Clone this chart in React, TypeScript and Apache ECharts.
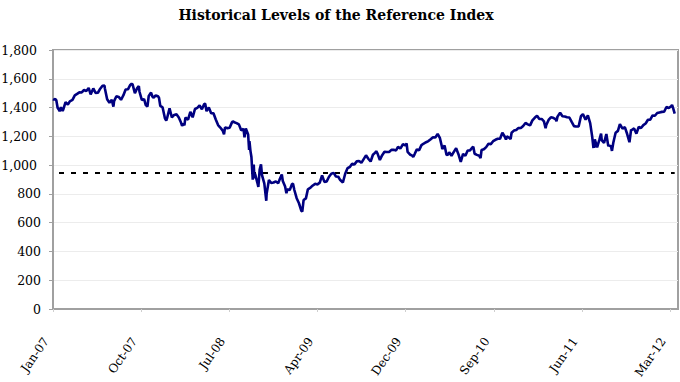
import React, { useEffect, useRef } from "react";
import * as echarts from "echarts";

// ---- data (reference index closing levels) ----
const startDate = "2007-02-13";
const tickStepDays = 267;
const axisMaxDays = 1893;
const tickLabels = ["Jan-07", "Oct-07", "Jul-08", "Apr-09", "Dec-09", "Sep-10", "Jun-11", "Mar-12"];
const yTicks = [0, 200, 400, 600, 800, 1000, 1200, 1400, 1600, 1800];
const barrierLevel = 945;

const y2007: [string, number][] = [
  ["02-13", 1459], ["02-16", 1455], ["02-20", 1460], ["02-23", 1451], ["02-27", 1399], ["03-02", 1388],
  ["03-05", 1374], ["03-09", 1402], ["03-14", 1377], ["03-16", 1386], ["03-23", 1437], ["03-30", 1421],
  ["04-05", 1443], ["04-13", 1453], ["04-20", 1485], ["04-27", 1495], ["05-04", 1506], ["05-11", 1505],
  ["05-18", 1522], ["05-25", 1515], ["06-01", 1536], ["06-07", 1491], ["06-15", 1533], ["06-22", 1502],
  ["06-29", 1503], ["07-06", 1531], ["07-13", 1552], ["07-19", 1553], ["07-20", 1534], ["07-27", 1458],
  ["08-03", 1433], ["08-10", 1453], ["08-15", 1406], ["08-17", 1445], ["08-24", 1479], ["08-31", 1474],
  ["09-07", 1454], ["09-14", 1484], ["09-21", 1525], ["09-28", 1527], ["10-05", 1557], ["10-09", 1565],
  ["10-12", 1561], ["10-19", 1500], ["10-26", 1535], ["10-31", 1549], ["11-02", 1510], ["11-09", 1453],
  ["11-16", 1458], ["11-21", 1417], ["11-26", 1407], ["11-30", 1481], ["12-07", 1504], ["12-11", 1477],
  ["12-14", 1468], ["12-21", 1484], ["12-28", 1478], ["12-31", 1468],
];
const y2008: [string, number][] = [
  ["01-04", 1411], ["01-11", 1401], ["01-18", 1325], ["01-22", 1310], ["01-25", 1331], ["02-01", 1395],
  ["02-08", 1331], ["02-15", 1349], ["02-22", 1353], ["02-29", 1331], ["03-07", 1294], ["03-10", 1273],
  ["03-14", 1288], ["03-17", 1276], ["03-20", 1330], ["03-28", 1316], ["04-04", 1370], ["04-11", 1332],
  ["04-18", 1390], ["04-25", 1398], ["05-02", 1414], ["05-09", 1388], ["05-16", 1425], ["05-19", 1426],
  ["05-23", 1375], ["05-30", 1400], ["06-06", 1361], ["06-13", 1360], ["06-20", 1317], ["06-27", 1278],
  ["07-03", 1263], ["07-11", 1240], ["07-15", 1214], ["07-18", 1261], ["07-25", 1257], ["08-01", 1260],
  ["08-08", 1297], ["08-11", 1305], ["08-15", 1298], ["08-22", 1292], ["08-29", 1283], ["09-05", 1242],
  ["09-12", 1252], ["09-15", 1193], ["09-19", 1255], ["09-26", 1213], ["09-29", 1106], ["09-30", 1166],
  ["10-03", 1099], ["10-06", 1056], ["10-10", 899], ["10-13", 1003], ["10-15", 908], ["10-17", 940],
  ["10-24", 877], ["10-27", 848], ["10-31", 969], ["11-04", 1005], ["11-07", 930], ["11-14", 873],
  ["11-20", 752], ["11-21", 800], ["11-28", 896], ["12-05", 876], ["12-12", 879], ["12-19", 887],
  ["12-26", 873], ["12-31", 903],
];
const y2009: [string, number][] = [
  ["01-06", 935], ["01-09", 890], ["01-16", 851], ["01-20", 805], ["01-23", 832], ["01-30", 826],
  ["02-06", 869], ["02-09", 870], ["02-13", 827], ["02-20", 770], ["02-27", 735], ["03-06", 683],
  ["03-09", 677], ["03-13", 757], ["03-20", 769], ["03-26", 832], ["04-03", 843], ["04-09", 857],
  ["04-17", 870], ["04-24", 866], ["05-01", 878], ["05-08", 929], ["05-15", 883], ["05-22", 887],
  ["05-29", 919], ["06-05", 940], ["06-12", 946], ["06-19", 921], ["06-26", 919], ["07-02", 896],
  ["07-10", 879], ["07-17", 940], ["07-24", 979], ["07-31", 987], ["08-07", 1010], ["08-14", 1005],
  ["08-21", 1026], ["08-28", 1029], ["09-04", 1016], ["09-11", 1042], ["09-18", 1068], ["09-25", 1044],
  ["10-02", 1025], ["10-09", 1072], ["10-16", 1087], ["10-19", 1097], ["10-23", 1080], ["10-30", 1036],
  ["11-06", 1069], ["11-13", 1093], ["11-20", 1091], ["11-27", 1091], ["12-04", 1106], ["12-11", 1106],
  ["12-18", 1102], ["12-24", 1127], ["12-31", 1115],
];
const y2010: [string, number][] = [
  ["01-08", 1145], ["01-15", 1137], ["01-19", 1150], ["01-22", 1092], ["01-29", 1074], ["02-05", 1066],
  ["02-08", 1056], ["02-12", 1075], ["02-19", 1109], ["02-26", 1104], ["03-05", 1139], ["03-12", 1150],
  ["03-19", 1159], ["03-26", 1167], ["04-01", 1178], ["04-09", 1194], ["04-16", 1192], ["04-23", 1217],
  ["04-30", 1187], ["05-06", 1128], ["05-07", 1111], ["05-14", 1136], ["05-20", 1071], ["05-25", 1074],
  ["05-28", 1089], ["06-04", 1065], ["06-11", 1092], ["06-18", 1117], ["06-25", 1076], ["07-02", 1022],
  ["07-09", 1078], ["07-16", 1065], ["07-23", 1102], ["07-30", 1102], ["08-06", 1122], ["08-09", 1128],
  ["08-13", 1079], ["08-20", 1071], ["08-27", 1065], ["08-31", 1049], ["09-03", 1105], ["09-10", 1110],
  ["09-17", 1125], ["09-24", 1149], ["10-01", 1146], ["10-08", 1166], ["10-15", 1176], ["10-22", 1183],
  ["10-29", 1183], ["11-05", 1225], ["11-12", 1199], ["11-16", 1178], ["11-19", 1199], ["11-26", 1190],
  ["11-30", 1181], ["12-03", 1225], ["12-10", 1240], ["12-17", 1244], ["12-23", 1257], ["12-31", 1258],
];
const y2011: [string, number][] = [
  ["01-07", 1272], ["01-14", 1293], ["01-21", 1283], ["01-28", 1276], ["02-04", 1311], ["02-11", 1329],
  ["02-18", 1343], ["02-25", 1320], ["03-04", 1321], ["03-11", 1304], ["03-16", 1256], ["03-18", 1279],
  ["03-25", 1314], ["04-01", 1332], ["04-08", 1329], ["04-15", 1320], ["04-18", 1305], ["04-21", 1337],
  ["04-29", 1364], ["05-06", 1340], ["05-13", 1338], ["05-20", 1333], ["05-27", 1331], ["06-03", 1300],
  ["06-10", 1271], ["06-16", 1268], ["06-17", 1272], ["06-24", 1268], ["07-01", 1340], ["07-07", 1354],
  ["07-15", 1316], ["07-22", 1345], ["07-29", 1292], ["08-04", 1200], ["08-08", 1119], ["08-09", 1172],
  ["08-10", 1120], ["08-12", 1179], ["08-19", 1124], ["08-26", 1177], ["08-31", 1219], ["09-02", 1174],
  ["09-09", 1154], ["09-16", 1216], ["09-22", 1130], ["09-23", 1136], ["09-30", 1131], ["10-03", 1099],
  ["10-07", 1155], ["10-14", 1225], ["10-21", 1238], ["10-27", 1285], ["10-28", 1285], ["11-04", 1253],
  ["11-11", 1264], ["11-18", 1216], ["11-25", 1159], ["11-30", 1247], ["12-02", 1244], ["12-09", 1255],
  ["12-16", 1219], ["12-23", 1265], ["12-30", 1258],
];
const y2012: [string, number][] = [
  ["01-06", 1278], ["01-13", 1289], ["01-20", 1315], ["01-27", 1316], ["02-03", 1345], ["02-10", 1343],
  ["02-17", 1362], ["02-24", 1366], ["03-02", 1370], ["03-09", 1371], ["03-16", 1404], ["03-23", 1397],
  ["03-30", 1408], ["04-02", 1419], ["04-05", 1398], ["04-10", 1358],
];

const yearBlocks: [number, [string, number][]][] = [
  [2007, y2007], [2008, y2008], [2009, y2009], [2010, y2010], [2011, y2011], [2012, y2012],
];

function toUTC(s: string): number {
  const [y, m, d] = s.split("-").map(Number);
  return Date.UTC(y, m - 1, d);
}
const startMs = toUTC(startDate);
const seriesData: [number, number][] = [];
yearBlocks.forEach(([yr, rows]) => {
  rows.forEach(([md, v]) => {
    seriesData.push([(toUTC(`${yr}-${md}`) - startMs) / 86400000, v]);
  });
});
const lastDay = seriesData[seriesData.length - 1][0];

const SERIF = "'DejaVu Serif', serif";
const fmtThousands = (v: number) => v.toLocaleString("en-US");

export default function App() {
  const ref = useRef<HTMLDivElement>(null);
  useEffect(() => {
    if (!ref.current) return;
    const chart = echarts.init(ref.current, undefined, { renderer: "svg" });
    chart.setOption({
      animation: false,
      backgroundColor: "#ffffff",
      title: {
        text: "Historical Levels of the Reference Index",
        left: 331,
        top: 3,
        textAlign: "center",
        textStyle: { fontFamily: SERIF, fontWeight: "bold", fontSize: 14, color: "#000" },
      },
      grid: {
        left: 53,
        top: 50,
        width: 625,
        height: 259,
        containLabel: false,
        outerBoundsMode: "none",
        show: true,
        borderColor: "#a0a0a0",
        borderWidth: 2,
        backgroundColor: "transparent",
      },
      xAxis: {
        type: "value",
        min: 0,
        max: axisMaxDays,
        interval: tickStepDays,
        splitLine: { show: false },
        axisLine: { show: true, lineStyle: { color: "#a0a0a0", width: 2 } },
        axisTick: { show: true, length: 3, lineStyle: { color: "#cfcfcf", width: 1 } },
        axisLabel: {
          rotate: 55,
          margin: 20,
          padding: [0, 12, 0, 0],
          showMaxLabel: false,
          fontFamily: SERIF,
          fontSize: 12,
          color: "#000",
          formatter: (v: number) => {
            const i = Math.round(v / tickStepDays);
            return Math.abs(v - i * tickStepDays) < 0.5 && i < tickLabels.length ? tickLabels[i] : "";
          },
        },
      },
      yAxis: {
        type: "value",
        min: yTicks[0],
        max: yTicks[yTicks.length - 1],
        interval: yTicks[1] - yTicks[0],
        axisLine: { show: true, lineStyle: { color: "#a0a0a0", width: 2 } },
        axisTick: { show: true, length: 4, lineStyle: { color: "#a0a0a0", width: 1 } },
        splitLine: { show: true, lineStyle: { color: "#ececec", width: 1 } },
        axisLabel: {
          margin: 12,
          color: "#000",
          fontFamily: SERIF,
          fontSize: 12.5,
          formatter: (v: number) => (v >= 1000 ? `{w|${fmtThousands(v)}}` : `{n|${fmtThousands(v)}}`),
          rich: {
            w: { fontFamily: SERIF, fontSize: 12.5, color: "#000", padding: [0, 4, 0, 0] },
            n: { fontFamily: SERIF, fontSize: 12.5, color: "#000" },
          },
        },
      },
      series: [
        {
          type: "line",
          data: seriesData,
          showSymbol: false,
          symbol: "none",
          lineStyle: { color: "#000080", width: 2.6 },
          z: 3,
        },
        {
          type: "line",
          data: [
            [0, barrierLevel],
            [lastDay, barrierLevel],
          ],
          showSymbol: false,
          symbol: "none",
          lineStyle: { color: "#000000", width: 2, type: [5, 7], dashOffset: 5.7 },
          z: 2,
        },
      ],
    });
    return () => chart.dispose();
  }, []);
  return (
    <div
      ref={ref}
      style={{ position: "fixed", left: 0, top: 0, width: 680, height: 382, background: "#fff" }}
    />
  );
}
